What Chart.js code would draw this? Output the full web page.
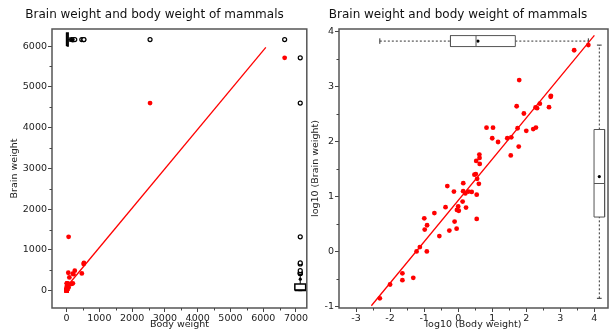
<!DOCTYPE html>
<html>
<head>
<meta charset="utf-8">
<title>Brain weight and body weight of mammals</title>
<script src="https://cdn.jsdelivr.net/npm/chart.js@4"></script>
<style>
  html, body { margin: 0; padding: 0; background: #fff; overflow: hidden; }
  #wrap { position: relative; width: 609px; height: 330px; overflow: hidden; }
  canvas { position: absolute; top: 0; }
  #rawChart { left: 0; }
  #logChart { left: 306px; }
</style>
</head>
<body>
<div id="wrap">
  <canvas id="rawChart" width="312" height="330"></canvas>
  <canvas id="logChart" width="306" height="330"></canvas>
</div>
<script>
// 62 mammals: body weight (kg) and brain weight (g)
const species = ['Arctic fox','Owl monkey','Mountain beaver','Cow','Grey wolf','Goat','Roe deer','Guinea pig','Verbet','Chinchilla',
  'Ground squirrel','Arctic ground squirrel','African giant pouched rat','Lesser short-tailed shrew','Star-nosed mole','Nine-banded armadillo','Tree hyrax','N.A. opossum','Asian elephant','Big brown bat',
  'Donkey','Horse','European hedgehog','Patas monkey','Cat','Galago','Genet','Giraffe','Gorilla','Grey seal',
  'Rock hyrax-a','Human','African elephant','Water opossum','Rhesus monkey','Kangaroo','Yellow-bellied marmot','Golden hamster','Mouse','Little brown bat',
  'Slow loris','Okapi','Rabbit','Sheep','Jaguar','Chimpanzee','Baboon','Desert hedgehog','Giant armadillo','Rock hyrax-b',
  'Raccoon','Rat','E. American mole','Mole rat','Musk shrew','Pig','Echidna','Brazilian tapir','Tenrec','Phalanger',
  'Tree shrew','Red fox'];
const bodyWeight = [3.385,0.48,1.35,465,36.33,27.66,14.83,1.04,4.19,0.425,
  0.101,0.92,1,0.005,0.06,3.5,2,1.7,2547,0.023,
  187.1,521,0.785,10,3.3,0.2,1.41,529,207,85,
  0.75,62,6654,3.5,6.8,35,4.05,0.12,0.023,0.01,
  1.4,250,2.5,55.5,100,52.16,10.55,0.55,60,3.6,
  4.288,0.28,0.075,0.122,0.048,192,3,160,0.9,1.62,
  0.104,4.235];
const brainWeight = [44.5,15.5,8.1,423,119.5,115,98.2,5.5,58,6.4,
  4,5.7,6.6,0.14,1,10.8,12.3,6.3,4603,0.3,
  419,655,3.5,115,25.6,5,17.5,680,406,325,
  12.3,1320,5712,3.9,179,56,17,1,0.4,0.25,
  12.5,490,12.1,175,157,440,179.5,2.4,81,21,
  39.2,1.9,1.2,3,0.33,180,25,169,2.6,11.4,
  2.5,50.4];

// axis ticks
const rawBodyTicks = [0, 1000, 2000, 3000, 4000, 5000, 6000, 7000];
const rawBrainTicks = [0, 1000, 2000, 3000, 4000, 5000, 6000];
const logBodyTicks = [-3, -2, -1, 0, 1, 2, 3, 4];
const logBrainTicks = [-1, 0, 1, 2, 3, 4];

// x extent of the fitted lines
const rawFitRange = [100, 6080];
const logFitRange = [-2.55, 4.0];

const logBody = bodyWeight.map(v => Math.log10(v));
const logBrain = brainWeight.map(v => Math.log10(v));

Chart.defaults.font.family = "'DejaVu Sans', sans-serif";
Chart.defaults.color = '#222';

function quantile(sorted, p) {
  const pos = (sorted.length - 1) * p;
  const lo = Math.floor(pos), hi = Math.ceil(pos);
  return sorted[lo] + (sorted[hi] - sorted[lo]) * (pos - lo);
}

function boxStats(values) {
  const s = values.slice().sort((a, b) => a - b);
  const q1 = quantile(s, 0.25), med = quantile(s, 0.5), q3 = quantile(s, 0.75);
  const lowFence = q1 - 1.5 * (q3 - q1), highFence = q3 + 1.5 * (q3 - q1);
  const inside = s.filter(v => v >= lowFence && v <= highFence);
  return {
    q1, med, q3,
    lo: inside[0], hi: inside[inside.length - 1],
    mean: s.reduce((a, b) => a + b, 0) / s.length,
    outliers: s.filter(v => v < lowFence || v > highFence)
  };
}

function fitLine(xs, ys, range) {
  const n = xs.length;
  const mx = xs.reduce((a, b) => a + b, 0) / n;
  const my = ys.reduce((a, b) => a + b, 0) / n;
  let sxy = 0, sxx = 0;
  xs.forEach((x, i) => { sxy += (x - mx) * (ys[i] - my); sxx += (x - mx) * (x - mx); });
  const b = sxy / sxx, a = my - b * mx;
  return range.map(x => ({ x, y: a + b * x }));
}

function seg(data, color, width, dash) {
  return { data, showLine: true, borderColor: color, borderWidth: width, borderDash: dash || [],
           pointRadius: 0, fill: false, tension: 0 };
}

// boxplot made of plain scatter/line datasets; pos is the position across the value axis
function boxDatasets(st, horizontal, pos, half, cap, style) {
  const pt = horizontal ? (v, p) => ({ x: v, y: p }) : (v, p) => ({ x: p, y: v });
  const dash = style.dashed ? [2, 2] : [];
  return [
    seg([pt(st.q1, pos - half), pt(st.q3, pos - half), pt(st.q3, pos + half), pt(st.q1, pos + half), pt(st.q1, pos - half)], style.box, style.width),
    seg([pt(st.med, pos - half), pt(st.med, pos + half)], style.box, style.width),
    seg([pt(st.lo, pos), pt(st.q1, pos)], style.whisker, 1, dash),
    seg([pt(st.q3, pos), pt(st.hi, pos)], style.whisker, 1, dash),
    seg([pt(st.lo, pos - cap), pt(st.lo, pos + cap)], style.whisker, 1),
    seg([pt(st.hi, pos - cap), pt(st.hi, pos + cap)], style.whisker, 1),
    { data: [pt(st.mean, pos)], pointRadius: 1.6, backgroundColor: '#000', borderWidth: 0 },
    { data: st.outliers.map(v => pt(v, pos)), pointRadius: 2, backgroundColor: '#fff',
      borderColor: '#000', borderWidth: 1.2 }
  ];
}

// frame around the plot area plus short minor ticks
const framePlugin = {
  id: 'frame',
  afterDraw(chart, args, opts) {
    const { ctx, chartArea: a, scales } = chart;
    ctx.save();
    ctx.strokeStyle = '#555';
    ctx.lineWidth = 1.5;
    ctx.strokeRect(a.left, a.top, a.right - a.left, a.bottom - a.top);
    ctx.lineWidth = 1;
    ctx.strokeStyle = '#444';
    ctx.beginPath();
    opts.minorX.forEach(v => {
      const px = Math.round(scales.x.getPixelForValue(v)) + 0.5;
      ctx.moveTo(px, a.bottom); ctx.lineTo(px, a.bottom + 2.5);
    });
    opts.minorY.forEach(v => {
      const py = Math.round(scales.y.getPixelForValue(v)) + 0.5;
      ctx.moveTo(a.left, py); ctx.lineTo(a.left - 2.5, py);
    });
    ctx.stroke();
    ctx.restore();
  }
};

function midpoints(ticks) {
  return ticks.slice(1).map((v, i) => (v + ticks[i]) / 2);
}

function axis(position, tickList, min, max, title, size, titlePad) {
  return {
    type: 'linear', position, min, max,
    afterBuildTicks: s => { s.ticks = tickList.map(v => ({ value: v })); },
    afterFit: s => { if (position === 'left') s.width = size; else s.height = size; },
    border: { display: false },
    grid: { drawOnChartArea: false, tickLength: 4, tickColor: '#444', tickWidth: 1 },
    ticks: { color: '#222', font: { size: 9.5 }, padding: 1, maxRotation: 0, autoSkip: false,
             callback: v => String(v) },
    title: { display: true, text: title, color: '#222', font: { size: 9.5 }, padding: titlePad }
  };
}

function makeChart(id, datasets, scales, padRight, minorX, minorY) {
  return new Chart(document.getElementById(id), {
    type: 'scatter',
    data: { datasets },
    options: {
      responsive: false,
      animation: false,
      layout: { padding: { left: 0, right: padRight, top: 0, bottom: 0 } },
      plugins: {
        legend: { display: false },
        tooltip: { enabled: false },
        title: { display: true, text: 'Brain weight and body weight of mammals', color: '#111',
                 font: { size: 12, weight: 'normal' }, padding: { top: 8, bottom: 6.6 } },
        frame: { minorX, minorY }
      },
      scales
    },
    plugins: [framePlugin]
  });
}

// left: raw weights
const rawPoints = bodyWeight.map((b, i) => ({ x: b, y: brainWeight[i] }));
const rawBoxStyle = { box: '#000', whisker: '#000', width: 1.5, dashed: false };
makeChart('rawChart', [
  { data: rawPoints, pointRadius: 2.4, backgroundColor: '#ff0000', borderWidth: 0 },
  seg(fitLine(bodyWeight, brainWeight, rawFitRange), '#ff0000', 1.3),
  ...boxDatasets(boxStats(bodyWeight), true, 6160, 160, 60, rawBoxStyle),
  ...boxDatasets(boxStats(brainWeight), false, 7130, 165, 60, rawBoxStyle)
], {
  x: axis('bottom', rawBodyTicks, -445, 7330, 'Body weight', 22, { top: 0, bottom: 0 }),
  y: axis('left', rawBrainTicks, -425, 6420, 'Brain weight', 52, { top: 9, bottom: 0 })
}, 3, midpoints(rawBodyTicks), midpoints(rawBrainTicks));

// right: log10 weights
const logPoints = logBody.map((b, i) => ({ x: b, y: logBrain[i] }));
const logBoxStyle = { box: '#555', whisker: '#333', width: 1, dashed: true };
makeChart('logChart', [
  { data: logPoints, pointRadius: 2.4, backgroundColor: '#ff0000', borderWidth: 0 },
  seg(fitLine(logBody, logBrain, logFitRange), '#ff0000', 1.3),
  ...boxDatasets(boxStats(logBody), true, 3.83, 0.1, 0.05, logBoxStyle),
  ...boxDatasets(boxStats(logBrain), false, 4.145, 0.155, 0.07, logBoxStyle)
], {
  x: axis('bottom', logBodyTicks, -3.5, 4.4, 'log10 (Body weight)', 22, { top: 0, bottom: 0 }),
  y: axis('left', logBrainTicks, -1.03, 4.05, 'log10 (Brain weight)', 33, { top: 4.3, bottom: 0 })
}, 2, midpoints(logBodyTicks), midpoints(logBrainTicks));
</script>
</body>
</html>
